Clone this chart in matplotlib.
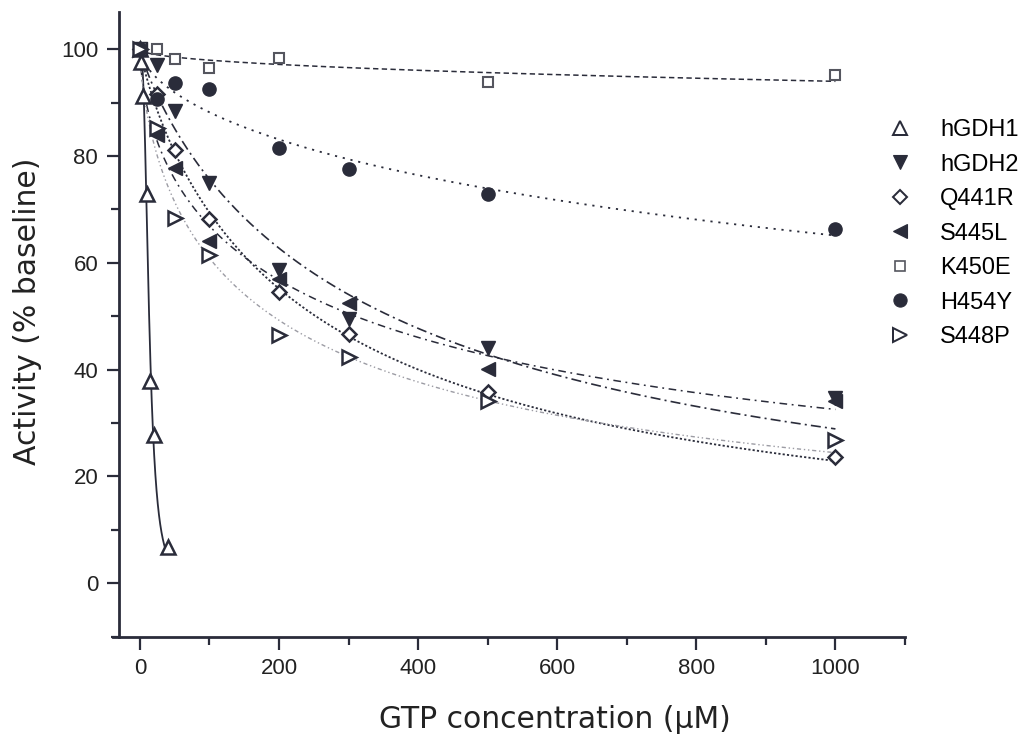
import numpy as np
import matplotlib
matplotlib.use("Agg")
import matplotlib.pyplot as plt
from matplotlib.lines import Line2D

plt.rcParams['font.family'] = ['Liberation Sans', 'DejaVu Sans']

# GTP concentrations (uM) and residual activity (% of baseline)
x_hgdh1 = [0, 2, 5, 10, 15, 20, 40]
y_hgdh1 = [100, 97.5, 91.2, 72.8, 37.8, 27.8, 6.8]

x_conc = [0, 25, 50, 100, 200, 300, 500, 1000]
y_hgdh2 = [100, 97.0, 88.4, 74.9, 58.6, 49.5, 44.0, 34.7]
y_q441r = [100, 91.5, 81.2, 68.1, 54.5, 46.7, 35.9, 23.7]
y_s445l = [100, 84.0, 77.8, 64.0, 57.0, 52.5, 40.1, 34.2]
y_h454y = [100, 90.6, 93.7, 92.6, 81.5, 77.5, 72.8, 66.4]
y_s448p = [100, 85.2, 68.4, 61.5, 46.5, 42.3, 34.2, 26.8]

# K450E was not measured at 300 uM
x_k450e = [0, 25, 50, 100, 200, 500, 1000]
y_k450e = [100, 100.0, 98.2, 96.4, 98.4, 93.8, 95.1]

labels = ["hGDH1", "hGDH2", "Q441R", "S445L", "K450E", "H454Y", "S448P"]

ink = '#2a2c3a'


def hill(x, ic50, h):
    x = np.asarray(x, dtype=float)
    return 100.0 / (1.0 + (x / ic50) ** h)


def fit_hill(x, y):
    """Least-squares fit of a two-parameter inhibition curve (top fixed at 100)."""
    x = np.asarray(x, dtype=float)
    y = np.asarray(y, dtype=float)
    ic = np.logspace(0, 5.5, 500)[:, None, None]
    hh = np.linspace(0.2, 5.0, 240)[None, :, None]
    pred = 100.0 / (1.0 + (x[None, None, :] / ic) ** hh)
    sse = ((pred - y[None, None, :]) ** 2).sum(axis=2)
    i, j = np.unravel_index(np.argmin(sse), sse.shape)
    return ic[i, 0, 0], hh[0, j, 0]


fig = plt.figure(figsize=(10.27, 7.35), dpi=100)
ax = fig.add_axes([119 / 1027, 1 - 636.7 / 735, (905 - 119) / 1027,
                   (636.7 - 11.7) / 735])

series = [
    dict(x=x_hgdh1, y=y_hgdh1, marker='^', mfc='white', ms=10.5, mew=1.8,
         ls='-', lc=ink, lw=1.3, xmax=38),
    dict(x=x_conc, y=y_hgdh2, marker='v', mfc=ink, ms=10.5, mew=1.0,
         ls=(0, (6, 2.5, 1.2, 2.5)), lc=ink, lw=1.2, xmax=1000),
    dict(x=x_conc, y=y_q441r, marker='D', mfc='white', ms=7.6, mew=1.8,
         ls=(0, (1.2, 1.2)), lc=ink, lw=1.3, xmax=1000),
    dict(x=x_conc, y=y_s445l, marker='<', mfc=ink, ms=10.5, mew=1.0,
         ls=(0, (5, 3, 1.2, 3)), lc=ink, lw=1.1, xmax=1000),
    dict(x=x_k450e, y=y_k450e, marker='s', mfc='white', ms=7.8, mew=1.5,
         ls=(0, (3.5, 2.2)), lc=ink, lw=1.1, xmax=1000, mec='#55565f'),
    dict(x=x_conc, y=y_h454y, marker='o', mfc=ink, ms=9.5, mew=1.0,
         ls=(0, (1.2, 3.2)), lc=ink, lw=1.3, xmax=1000),
    dict(x=x_conc, y=y_s448p, marker='>', mfc='white', ms=10.5, mew=1.8,
         ls=(0, (3, 2, 1, 2, 1, 2)), lc='#9c9ca4', lw=1.0, xmax=1000),
]

handles = []
for s, lab in zip(series, labels):
    ic50, h = fit_hill(s['x'], s['y'])
    xs = np.linspace(0, s['xmax'], 1200)
    ax.plot(xs, hill(xs, ic50, h), color=s['lc'], lw=s['lw'], ls=s['ls'],
            zorder=2)
    mec = s.get('mec', ink)
    ax.plot(s['x'], s['y'], ls='none', marker=s['marker'], ms=s['ms'],
            mfc=s['mfc'], mec=mec, mew=s['mew'], zorder=3, clip_on=False)
    handles.append(Line2D([], [], ls='none', marker=s['marker'],
                          ms=s['ms'], mfc=s['mfc'], mec=mec,
                          mew=s['mew'] * 0.8))

ax.set_xlim(-30, 1100)
ax.set_ylim(-10, 107)

ax.spines['top'].set_visible(False)
ax.spines['right'].set_visible(False)
for sp in ('left', 'bottom'):
    ax.spines[sp].set_linewidth(2.0)
    ax.spines[sp].set_color(ink)
ax.spines['bottom'].set_bounds(-38, 1100)

ax.set_xticks([0, 200, 400, 600, 800, 1000])
ax.set_xticks([100, 300, 500, 700, 900, 1100], minor=True)
ax.set_yticks([0, 20, 40, 60, 80, 100])
ax.set_yticks([-10, 10, 30, 50, 70, 90], minor=True)
ax.tick_params(which='major', direction='out', length=9, width=1.6,
               color=ink, labelsize=16, labelcolor='#222222', pad=6)
ax.tick_params(which='minor', direction='out', length=5.5, width=1.6,
               color=ink)

label_font = dict(family=['DejaVu Sans'], fontsize=21.5, color='#222222')
ax.set_xlabel("GTP concentration (µM)", va='center', **label_font)
ax.set_ylabel("Activity (% baseline)", va='center', **label_font)
ax.xaxis.set_label_coords(0.555, -0.133)
ax.yaxis.set_label_coords(-0.117, 0.52)

fig.legend(handles, labels, loc='upper left',
           bbox_to_anchor=(886 / 1027, 1 - 119 / 735), frameon=False,
           fontsize=17, handlelength=1.2, handletextpad=1.1,
           labelspacing=0.53, borderaxespad=0, borderpad=0)

fig.savefig("out.png", dpi=100)
